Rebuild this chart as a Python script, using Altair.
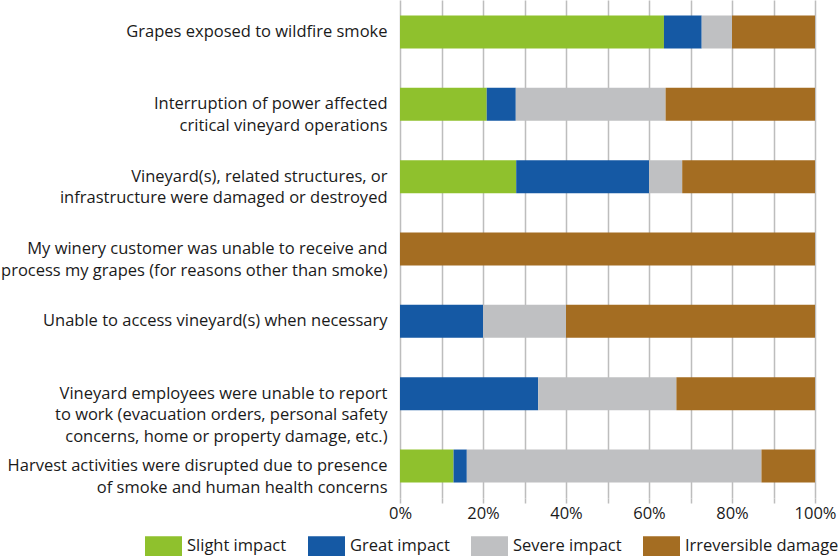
import altair as alt
import pandas as pd

categories = [
    "Grapes exposed to wildfire smoke",
    "Interruption of power affected|critical vineyard operations",
    "Vineyard(s), related structures, or|infrastructure were damaged or destroyed",
    "My winery customer was unable to receive and|process my grapes (for reasons other than smoke)",
    "Unable to access vineyard(s) when necessary",
    "Vineyard employees were unable to report|to work (evacuation orders, personal safety|concerns, home or property damage, etc.)",
    "Harvest activities were disrupted due to presence|of smoke and human health concerns",
]
series = ["Slight impact", "Great impact", "Severe impact", "Irreversible damage"]
slight = [63.6, 20.9, 28.0, 0.0, 0.0, 0.0, 12.9]
great = [9.1, 7.0, 32.0, 0.0, 20.0, 33.3, 3.2]
severe = [7.3, 36.1, 8.0, 0.0, 20.0, 33.3, 71.0]
irreversible = [20.0, 36.0, 32.0, 100.0, 60.0, 33.4, 12.9]
colors = ["#8FC12D", "#1559A4", "#BFC0C2", "#A46D22"]
x_ticks = [0, 10, 20, 30, 40, 50, 60, 70, 80, 90, 100]

rows = []
for i, c in enumerate(categories):
    for j, (s, vals) in enumerate(zip(series, [slight, great, severe, irreversible])):
        rows.append({"category": c, "series": s, "value": vals[i], "order": j})
df = pd.DataFrame(rows)

FONT = "Open Sans"
FS = 16.5

chart = alt.Chart(df).mark_bar(size=33).encode(
    y=alt.Y("category:N", sort=categories, title=None,
            scale=alt.Scale(paddingInner=0.544, paddingOuter=0.214),
            axis=alt.Axis(labelExpr="split(datum.label, '|')", labelFontSize=FS,
                          labelFont=FONT, labelColor="#1a1a1a", labelLimit=400,
                          labelLineHeight=21.5, labelPadding=13, ticks=False,
                          domain=False, grid=False)),
    x=alt.X("value:Q", stack="zero", title=None,
            scale=alt.Scale(domain=[0, 100], nice=False),
            axis=alt.Axis(values=x_ticks,
                          labelExpr="datum.value % 20 == 0 ? datum.value + '%' : ''",
                          labelFontSize=FS, labelFont=FONT, labelColor="#1a1a1a",
                          labelFlush=False, labelOverlap=False,
                          labelPadding=2, tickSize=5, tickColor="#BDBDBD", tickWidth=1.5,
                          gridColor="#BDBDBD", gridWidth=1.5, domain=False)),
    color=alt.Color("series:N", sort=series, title=None,
                    scale=alt.Scale(domain=series, range=colors),
                    legend=alt.Legend(orient="none", legendX=-255, legendY=527.5,
                                      direction="horizontal", columns=4,
                                      symbolType="M-1,-0.54L1,-0.54L1,0.54L-1,0.54Z",
                                      symbolSize=1369, symbolStrokeWidth=0,
                                      symbolOpacity=1,
                                      labelFontSize=FS, labelFont=FONT,
                                      labelColor="#1a1a1a", labelOffset=5,
                                      columnPadding=21, labelLimit=300)),
    order=alt.Order("order:Q"),
).properties(
    width=415, height=498,
    padding={"left": 400, "top": 0, "right": 23, "bottom": 58},
    autosize=alt.AutoSizeParams(type="none"),
).configure_view(stroke=None)

chart.save("out.html", embed_options={"renderer": "svg", "actions": False})
